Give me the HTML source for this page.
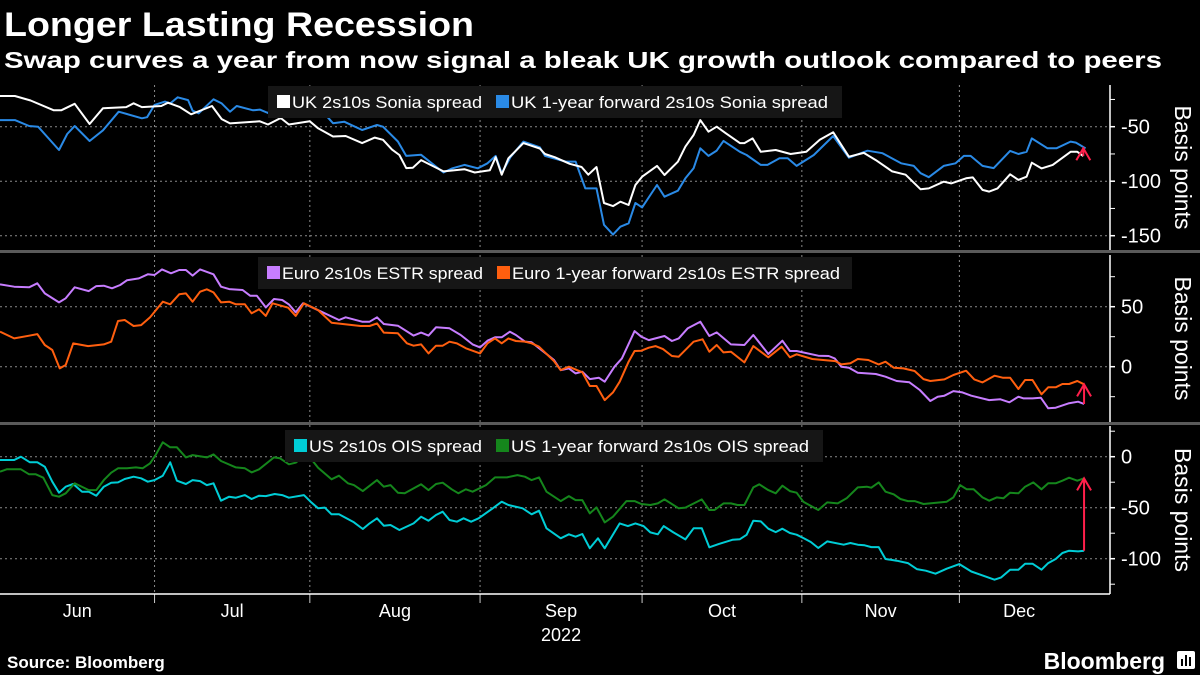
<!DOCTYPE html>
<html><head><meta charset="utf-8"><style>
html,body{margin:0;padding:0;background:#000;}
svg{display:block;}
text{font-family:"Liberation Sans",sans-serif;}
</style></head><body>
<svg id="chart" width="1200" height="675" viewBox="0 0 1200 675" xmlns="http://www.w3.org/2000/svg">
<rect x="0" y="0" width="1200" height="675" fill="#000"/>
<text x="4" y="36" font-size="34" font-weight="bold" fill="#fff" textLength="470" lengthAdjust="spacingAndGlyphs">Longer Lasting Recession</text>
<text x="4" y="68" font-size="23" font-weight="bold" fill="#fff" textLength="1158" lengthAdjust="spacingAndGlyphs">Swap curves a year from now signal a bleak UK growth outlook compared to peers</text>
<g id="grid"></g>
<g id="series"></g>
<g id="axes"></g>
<g id="legends"></g>
<text x="7" y="668" font-size="17" font-weight="bold" fill="#fff">Source: Bloomberg</text>
<text x="1165" y="669" font-size="23" font-weight="bold" fill="#fff" text-anchor="end">Bloomberg</text>
<g>
<rect x="1177" y="651" width="18" height="18" rx="2" fill="#fff"/>
<rect x="1181" y="659" width="2" height="7" fill="#000"/><rect x="1185" y="655" width="2" height="11" fill="#000"/><rect x="1189" y="657" width="2" height="9" fill="#000"/>
</g>
</svg>
<script>
// ---------- data (x = trading-day index from 1 Jun 2022) ----------
const monthNames = ["Jun","Jul","Aug","Sep","Oct","Nov","Dec"];
const monthStarts = [0,20.7,41.5,64.3,86,107.4,128.5,144.5];

const ukDays = [0,2,4.1,7.2,8.2,10,12,13.8,16.9,17.9,19,21.6,22.5,24.1,25.6,28.4,29.7,30.8,34.8,35.9,37.6,38.7,41.5,42.6,44.6,46.3,48.5,50.2,51.3,52.5,53.5,54.4,55.3,56.4,59.4,62.2,63.6,65.6,66.4,67.2,68.1,70.1,72.3,73,74.3,76.3,77.9,78.8,79.9,80.9,82.1,83.1,84.2,85.1,86,88,89,90.8,91.8,92.9,93.8,94.9,96,97.2,99.1,99.7,100.8,101.9,103.9,105.9,108,109.8,111.6,113.7,115.7,117.3,119.5,121.3,123.3,124.4,126.4,127.4,129.4,130.3,131.6,132.5,133.6,135.3,136.4,137.5,138.2,139.5,141,143.4,144.3,145.1];
const ukValues = [-21.8,-21.8,-26,-35,-35,-29,-47.5,-33,-32,-28.5,-32,-31,-28,-32,-38.6,-31,-43,-47,-45,-48,-42,-48,-45,-51.5,-59,-58.5,-65,-60,-62,-71,-76,-88,-87.6,-80.6,-91,-89,-92,-90,-78,-94,-79,-65,-70,-75,-78,-84,-87,-94,-87,-120,-122.8,-118.8,-121.8,-103.5,-95.9,-86,-94.3,-82.1,-68.3,-57.6,-43.9,-54.6,-50,-56,-65,-65,-60.7,-73,-71.4,-75,-73,-62,-55.1,-77.5,-74,-80.6,-91,-94,-107.4,-106.6,-100.5,-102,-97.3,-96.5,-108,-109.5,-106.6,-93.7,-98.8,-95.9,-83,-88.3,-85,-73,-73,-77];
const ukFwdDays = [0,2,3.9,5.1,7.9,9,10,12,13.8,15.9,19,19.7,20.7,22.1,22.8,23.8,25.2,25.8,26.6,28.6,29.7,30.8,31.7,33.9,34.8,35.9,36.9,38.4,39.8,41.5,44.6,46.1,48.5,50.5,51.3,53.3,54.4,56.4,59.4,60.6,62.2,64,65.3,66.4,67.2,68.4,70.1,72.3,73,75.8,77.1,78.4,79.9,80.9,82.1,83.1,84.2,85.1,86,88,89,90.8,91.8,92.9,93.8,94.9,96,96.9,99.1,100,101.9,102.8,104.4,105.5,106.7,109,111.6,113.7,116.2,118.2,120.7,122.4,123.3,124.4,126.4,128,129.1,130,131.6,133.1,135.3,136.4,137.5,138.2,140.3,141.5,143.4,144.1,145.4];
const ukFwdValues = [-43.9,-43.9,-49.4,-50,-71.4,-56.7,-49.4,-63.1,-53.3,-36.2,-42.3,-41.3,-30.1,-27,-28.6,-23,-25.6,-35.3,-37.8,-24.9,-28.6,-36.2,-31,-35,-34.3,-37.4,-28.6,-33.1,-32.2,-23,-46.8,-45.4,-53,-48.4,-50,-63.6,-76.8,-75.8,-92,-88.2,-85,-88.2,-83.6,-76.8,-92.7,-77.6,-63.7,-68.9,-76.8,-82,-82,-106.6,-106.6,-140,-149,-141.7,-138.6,-120,-124,-103.5,-114.2,-108.7,-97.3,-88.2,-69.8,-76.8,-71.9,-63,-73,-76,-85,-85,-79,-79,-86,-76,-58.5,-78.4,-72,-74.3,-83.6,-86,-92.7,-96.3,-86,-83.6,-76.8,-76.8,-86,-88,-72.2,-75,-73,-60.7,-69.8,-69.8,-63.7,-64.6,-69.8];

const euDays = [0,1.9,3.9,5,6,7.9,8.8,10,11.9,12.9,13.9,15,16.1,17,18.6,19.8,20.7,21.7,22.9,24,24.9,25.8,26.8,28.6,29.6,30.7,32.5,33.5,34.4,35.6,36.7,37.8,38.7,39.6,40.6,41.6,43.5,45.4,46.3,48.5,49.5,50.5,51.4,53.3,55.4,56.4,57.4,58.4,60.2,61.7,63.3,64.3,65.3,66.3,67.2,68.3,69.1,70.3,71.2,73.1,74.2,75.1,76.2,77.1,78,79,80.2,81,82.3,83.3,85,85.9,86.9,89,90,90.9,92.1,93.8,95,96,97.9,99.7,100.9,102.9,104.8,105.8,106.7,109.6,111,111.8,112.7,113.7,114.9,117.3,118.6,120.1,121.8,123.2,124.6,125.6,126.5,127.7,128.9,130.1,132.5,134,135.2,136.4,137.1,138.3,139.4,140.4,141.4,143.1,144.4,145.2];
const euValues = [68.6,66.7,66.2,69.5,61.1,53.6,57,66.2,63,67.2,67.5,65.3,68.1,72,73.6,77,76.4,81.1,77.8,80.6,80.6,75.9,81.1,77,66.7,64.7,63.9,59.2,59.2,49.4,56.4,55.6,51.9,45.3,52.8,50,44.5,38.9,41.2,37.5,37.5,41.2,35.6,34.2,25.9,28.4,25.9,32.8,32,26.4,18.6,16.1,21.7,24.5,24.5,29.2,26.4,20.9,20.3,11.1,5.6,-2.8,-1.4,-5.6,-4.2,-10.3,-9.2,-12.5,0,6.9,29.7,25,22.2,25.6,21.4,23.6,31.9,37.5,25.6,28.6,18.6,18.1,26.4,10.6,21.7,13.1,13.1,9.2,8.9,6.9,0,-0.8,-5,-6.1,-8.3,-11.9,-13,-19.4,-28.6,-25,-24.2,-20.3,-21.4,-24.2,-27.8,-27.2,-29.7,-25,-26.4,-26.4,-25.8,-34.7,-34.2,-30.6,-29.2,-31.1];
const euFwdDays = [0,1.9,3.9,5,6,7,8,8.8,9.8,11.8,13.9,14.9,15.8,16.7,17.9,18.9,20.1,21.8,22.8,24,24.9,25.8,26.8,27.7,28.6,29.6,30.7,31.6,32.8,33.7,34.7,35.6,36.5,38.6,39.6,40.7,42.6,44.4,48.3,49.5,50.5,51.4,53.3,54.5,55.4,56.4,57.4,58.4,59.3,60.2,61.2,62.4,64.3,65.3,66.3,67.2,68.1,69.1,70.3,71.2,72.2,74.2,75.1,76.2,78,79,79.9,81,82.1,83,84.2,85,85.9,86.9,87.8,88.8,90,90.9,92.9,94.1,95,96,96.9,97.9,99.7,100.9,102.9,104.7,105.8,106.7,108.8,111.9,112.7,113.9,114.9,116.3,117.7,118.6,119.7,121,122.5,123.7,124.6,126.5,127.7,129.4,130.5,131.6,133.2,134.3,135.3,136.4,137.3,138.3,139.5,140.4,141.4,142.3,143.2,144.3,145.2];
const euFwdValues = [29.2,23.6,25.8,27.2,18.1,13.9,-1.4,1.4,19.4,17.2,18.6,20.8,38.1,38.9,33.9,34.7,41.2,54.2,52,60.3,61.1,54.2,62.5,64.5,61.9,53.6,54.2,52,52,44.5,47.8,42.3,52.8,49.2,42.3,52.8,47.2,36.7,33.9,33.9,36.1,28.4,27.8,19.5,17.5,18.6,11.1,17.5,17.5,20.8,19.4,15.3,11.1,19.5,23.6,19.5,23.6,21.4,20.9,19.5,16.7,4.7,-2.8,0,-4.7,-16.1,-16.1,-27.8,-21.4,-12.5,4.2,13.1,13.3,15.8,17.2,14.7,8.9,8.3,20.8,22.8,12.5,18.1,11.9,12.5,3.6,17.2,7.8,16.7,7.8,10.3,6.4,4.7,1.9,2.8,6.4,5.6,1.9,4.2,-0.8,-1.4,-3.6,-10.3,-11.9,-10.6,-6.9,-3.3,-10.6,-13.1,-7.5,-9.2,-9.2,-18.6,-11.1,-11.1,-23,-17.2,-17.2,-14.4,-14.4,-11.9,-14.7];

const usDays = [0,1.9,2.8,4,5,6,7,7.9,8.8,9.8,11,11.9,12.9,13.9,14.9,15.8,16.7,17.9,18.9,19.8,20.7,21.8,22.8,23.7,24.9,25.8,26.8,27.7,28.6,29.6,30.7,31.6,32.8,33.7,34.7,35.6,36.8,37.8,38.7,40.7,41.6,42.6,43.5,44.4,45.4,47.4,48.6,49.5,50.5,51.4,52.3,53.5,55.4,56.4,57.4,58.4,59.3,60.2,61.2,62.1,63.1,64.1,66,67.2,68.1,70,71.2,72.2,73.2,75.1,76.2,77.1,78,79,80.1,81,83,84.1,85.1,86.2,87.1,88.1,88.9,90.2,91.8,92.9,94,95,96.3,98.1,99.1,100,100.9,101.9,102.9,103.9,104.8,105.8,106.7,107.6,108.6,109.6,110.8,113,113.9,114.9,115.8,116.7,117.7,118.6,120.1,121.6,122.8,124,125.3,126.8,128.5,130.1,131.6,133.2,134.1,135.3,136.4,137.3,138.3,139.5,140.4,141.4,142.3,143.2,144.4,145.2];
const usValues = [-3.2,-3.2,0,-5.5,-5.5,-9.8,-24.5,-35.3,-29.4,-26.8,-34.3,-34.3,-38.2,-29.4,-25.5,-25.2,-21.9,-19.6,-21.2,-24.5,-22.9,-18.6,-5.5,-23.5,-26.8,-22.9,-23.9,-27.8,-26.1,-43.1,-39.2,-40.2,-37.6,-41.5,-38.2,-38.6,-36.6,-37.6,-40.2,-37.6,-44.1,-50.6,-49.9,-56.5,-56.5,-64.3,-70.9,-65.4,-60.4,-67.6,-67,-71.9,-65.4,-58.8,-62.7,-57.2,-53.9,-62.1,-63.7,-60.4,-63.7,-60.4,-50.6,-44.1,-47.4,-50.6,-56.5,-52.9,-70.2,-80,-76.1,-78.4,-75.8,-89.8,-80,-89.8,-65.4,-68,-65.4,-68,-74.2,-76.1,-68,-74.2,-81.1,-70.2,-70.2,-88.8,-85.5,-81.5,-80.9,-76.6,-62.7,-63.4,-70.6,-73.9,-70.6,-74.8,-76.5,-79.7,-83.6,-89.5,-83,-86.3,-84.6,-86.3,-86.9,-88.6,-88.6,-100.3,-102,-104.3,-110.2,-111.8,-114.7,-109.8,-105.3,-112.5,-116.4,-120.6,-118.3,-110.8,-110.8,-104.9,-104.9,-110.8,-104.3,-100.3,-94.4,-92.2,-92.8,-92.2];
const usFwdDays = [0,0.9,2.8,3.9,4.8,5.8,7,7.9,8.8,10,11.9,12.9,13.9,14.9,15.8,17,18.2,19.1,20.1,20.9,21.8,22.8,23.7,24.9,25.8,27.7,28.6,29.6,31.6,32.8,33.7,34.7,36.7,37.5,38.7,39.6,40.7,41.6,42.6,44.4,45.4,46.6,47.4,48.6,50.5,51.4,52.3,53.3,54.2,56.4,57.4,58.4,59.3,60.5,61.4,62.4,63.3,65.1,66.3,67.9,69.3,70.3,71.2,72.2,73.2,75.1,76.2,77.1,78,79,79.9,81,82.1,83.9,85,85.9,87.1,88.1,89,90.9,91.8,94,95,95.7,96.9,97.9,98.8,99.7,100.9,101.7,102.9,103.9,104.8,105.8,106.7,107.6,109.6,110.8,112.2,113.4,114.9,116.1,116.7,117.7,118.6,119.7,120.6,121.6,122.5,123.7,126.8,127.7,128.6,129.5,130.4,131.6,132.5,133.5,134.4,135.3,136.4,137.3,138.4,139.5,140.4,141.4,142.3,143.2,144.3,145.2];
const usFwdValues = [-14.7,-12.4,-12.4,-17.3,-17.3,-20.6,-37.6,-39.2,-35.9,-26.1,-32.7,-32.7,-22.9,-15.7,-11.4,-11.4,-10.5,-11.4,-6.5,2.3,14.1,9.2,9.2,-0.7,1.6,-0.7,2.3,-4.2,-10.5,-11.4,-15.4,-12.4,-0.7,-1.6,-7.5,-5.9,1,-1.6,-10.8,-22.2,-18.6,-26.1,-27.8,-33.7,-22.9,-29.4,-27.8,-35.3,-35.9,-27.1,-32.7,-26.8,-25.5,-32,-35.9,-32,-34.3,-27.8,-20.3,-20.3,-18,-19.6,-22.9,-20.3,-34.3,-43.5,-38.6,-42.5,-42.5,-55.6,-49.7,-64.4,-58.8,-43.5,-43.5,-46.4,-47.4,-45.8,-41.9,-50.6,-49.9,-41.9,-52.3,-52.3,-45.8,-45.8,-47.4,-47.4,-30.1,-27.1,-32.7,-35.9,-28.4,-33.7,-35.3,-44.1,-52.3,-44.8,-45.8,-40.8,-30.1,-29.4,-30.4,-25.2,-34.3,-36.9,-41.5,-43.5,-43.5,-46.4,-44.1,-39.9,-27.8,-32,-32,-39.9,-43.1,-39.9,-40.8,-35.3,-35.9,-29.4,-25.2,-32,-26.1,-26.1,-23.5,-20.6,-23.5,-21.2];

const p1Ticks = [-50,-100,-150];
const p1Minor = [-25,-75,-125];
const p2Ticks = [50,0];
const p2Minor = [75,25,-25];
const p3Ticks = [0,-50,-100];
const p3Minor = [25,-25,-75,-125];

// ---------- layout ----------
const NS = "http://www.w3.org/2000/svg";
const plotL = 0, plotR = 1110, pxPerDay = 7.466;
const xScale = d => plotL + d * pxPerDay;
const panels = [
  {top: 85, bottom: 250, y: v => 126.7 + (-50 - v) * 1.09},
  {top: 255, bottom: 422, y: v => 366.7 - v * 1.2},
  {top: 426, bottom: 594, y: v => 456.7 - v * 1.02}
];
const grid = document.getElementById('grid');
const seriesG = document.getElementById('series');
const axes = document.getElementById('axes');
const legends = document.getElementById('legends');
function mk(tag, attrs, parent){ const e = document.createElementNS(NS, tag); for (const k in attrs) e.setAttribute(k, attrs[k]); parent.appendChild(e); return e; }

for (let i = 1; i < monthStarts.length - 1; i++) {
  const x = xScale(monthStarts[i]);
  const l = mk('line', {x1:x, x2:x, y1:85, y2:594, stroke:'#8a8a8a', 'stroke-width':1, 'stroke-dasharray':'2,3'}, grid);
  
  
  const t = mk('line', {x1:x, x2:x, y1:594, y2:603, stroke:'#ccc', 'stroke-width':1}, axes);
  
  
}
for (let i = 0; i < monthNames.length; i++) {
  const cx = xScale((monthStarts[i] + monthStarts[i+1]) / 2);
  const t = mk('text', {x:cx, y:617, 'font-size':18, fill:'#fff', 'text-anchor':'middle'}, axes);
  t.textContent = monthNames[i];
  
  
}
const yr = mk('text', {x:xScale((monthStarts[3]+monthStarts[4])/2), y:641, 'font-size':18, fill:'#fff', 'text-anchor':'middle'}, axes);
yr.textContent = '2022';



const xa = mk('line', {x1:0, x2:plotR, y1:594, y2:594, stroke:'#fff', 'stroke-width':1.5}, axes);


[251.5, 423.5].forEach(y => {
  const s = mk('rect', {x:0, y:y-1.5, width:1200, height:3, fill:'#5a5a5a'}, axes);
  
  
});

const tickSets = [[p1Ticks,p1Minor],[p2Ticks,p2Minor],[p3Ticks,p3Minor]];
panels.forEach((p, pi) => {
  const ax = mk('line', {x1:plotR, x2:plotR, y1:p.top, y2:p.bottom, stroke:'#fff', 'stroke-width':1.5}, axes);
  
  
  tickSets[pi][0].forEach(v => {
    const y = p.y(v);
    const g = mk('line', {x1:0, x2:plotR, y1:y, y2:y, stroke:'#8a8a8a', 'stroke-width':1, 'stroke-dasharray':'2,3'}, grid);
    
    
    const tk = mk('line', {x1:plotR, x2:plotR+5, y1:y, y2:y, stroke:'#fff', 'stroke-width':1.5}, axes);
    
    
    const lb = mk('text', {x:plotR+11, y:y+7, 'font-size':20, fill:'#fff'}, axes);
    lb.textContent = v < 0 ? '-' + Math.abs(v) : String(v);
    
    
  });
  tickSets[pi][1].forEach(v => {
    const y = p.y(v);
    if (y < p.top || y > p.bottom) return;
    const tk = mk('line', {x1:plotR, x2:plotR+5, y1:y, y2:y, stroke:'#fff', 'stroke-width':1}, axes);
    
    
  });
  const cy = (p.top + p.bottom) / 2;
  const bt = mk('text', {x:1175, y:cy, 'font-size':23, fill:'#fff', 'text-anchor':'middle', transform:`rotate(90 1175 ${cy})`}, axes);
  bt.textContent = 'Basis points';
  
  
});

function drawLine(days, vals, p, color, name) {
  const d = days.map((dd, i) => (i ? 'L' : 'M') + xScale(dd).toFixed(1) + ',' + p.y(vals[i]).toFixed(1)).join(' ');
  const el = mk('path', {d:d, fill:'none', stroke:color, 'stroke-width':2, 'stroke-linejoin':'round'}, seriesG);
  
  
}
drawLine(ukFwdDays, ukFwdValues, panels[0], '#2a8ae6', 'uk-forward-line');
drawLine(ukDays, ukValues, panels[0], '#ffffff', 'uk-spot-line');
drawLine(euDays, euValues, panels[1], '#c77dff', 'euro-spot-line');
drawLine(euFwdDays, euFwdValues, panels[1], '#ff5f0f', 'euro-forward-line');
drawLine(usDays, usValues, panels[2], '#00cdd6', 'us-spot-line');
drawLine(usFwdDays, usFwdValues, panels[2], '#15861c', 'us-forward-line');

function arrow(spotD, spotV, fwdD, fwdV, p, name) {
  const x = xScale(spotD[spotD.length-1]);
  const y1 = p.y(spotV[spotV.length-1]);
  const y2 = p.y(fwdV[fwdV.length-1]);
  const dir = y2 < y1 ? 1 : -1;
  const g = mk('path', {d:`M${x},${y1} L${x},${y2} M${x-7},${y2+12*dir} L${x},${y2} L${x+7},${y2+12*dir}`, fill:'none', stroke:'#ff1f4b', 'stroke-width':2}, seriesG);
  
  
}
arrow(ukDays, ukValues, ukFwdDays, ukFwdValues, panels[0], 'uk-change-arrow');
arrow(euDays, euValues, euFwdDays, euFwdValues, panels[1], 'euro-change-arrow');
arrow(usDays, usValues, usFwdDays, usFwdValues, panels[2], 'us-change-arrow');

function legend(x, y, w, items, name) {
  const g = mk('g', {}, legends);
  
  
  mk('rect', {x:x, y:y, width:w, height:32, fill:'#161616'}, g);
  let cx = x + 9;
  items.forEach(it => {
    const sw = mk('rect', {x:cx, y:y+9, width:13, height:13, fill:it[1]}, g);
    
    
    const t = mk('text', {x:cx+15, y:y+22, 'font-size':17, fill:'#fff', textLength:it[2], lengthAdjust:'spacingAndGlyphs'}, g);
    t.textContent = it[0];
    
    
    cx += 15 + it[2] + 14;
  });
}
legend(268, 86, 574, [['UK 2s10s Sonia spread','#ffffff',190],['UK 1-year forward 2s10s Sonia spread','#2a8ae6',317]], 'legend-uk');
legend(258, 257, 594, [['Euro 2s10s ESTR spread','#c77dff',201],['Euro 1-year forward 2s10s ESTR spread','#ff5f0f',328]], 'legend-euro');
legend(285, 430, 538, [['US 2s10s OIS spread','#00cdd6',173],['US 1-year forward 2s10s OIS spread','#15861c',298]], 'legend-us');
</script>
</body></html>
